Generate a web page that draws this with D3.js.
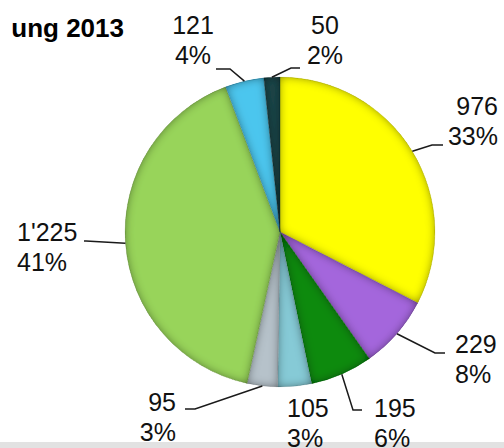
<!DOCTYPE html>
<html>
<head>
<meta charset="utf-8">
<script src="https://cdn.jsdelivr.net/npm/d3@7"></script>
<style>
  html, body { margin: 0; padding: 0; background: #fff; }
  svg { display: block; font-family: "Liberation Sans", Arial, sans-serif; }
</style>
</head>
<body>
<svg width="504" height="448"></svg>
<script>
"use strict";

// values clockwise from 12 o'clock
const values = [976, 229, 195, 105, 95, 1225, 121, 50];
const valueLabels = ["976", "229", "195", "105", "95", "1'225", "121", "50"];
const percentLabels = ["33%", "8%", "6%", "3%", "3%", "41%", "4%", "2%"];
const colors = ["#ffff00", "#a466dc", "#0a8a0c", "#86cad6", "#b6c2ca", "#98d45a", "#4cc6ee", "#1b4548"];
const title = "ung 2013";

// label placement: text anchor point + leader elbow/end (null = no leader)
const labelLayout = [
    {x: 498, y: 115, anchor: "end",    elbow: [432, 145], end: [443, 145]},
    {x: 455, y: 353, anchor: "start",  elbow: [435, 353], end: [445, 353]},
    {x: 374, y: 417, anchor: "start",  elbow: [353, 410], end: [362, 410]},
    {x: 287, y: 417, anchor: "start",  elbow: null, end: null},
    {x: 176, y: 411, anchor: "end",    elbow: [195, 409], end: [185, 409]},
    {x: 17,  y: 241, anchor: "start",  elbow: [86, 241], end: [84, 241]},
    {x: 193, y: 34,  anchor: "middle", elbow: [230, 69], end: [216, 69]},
    {x: 325, y: 34,  anchor: "middle", elbow: [291, 68], end: [300, 68]}
];

const svg = d3.select("svg");
const cx = 280, cy = 232, radius = 155;

// bevel-ish inner shading
const defs = svg.append("defs");
const f = defs.append("filter").attr("id", "bevel")
    .attr("x", "-10%").attr("y", "-10%").attr("width", "120%").attr("height", "120%");
f.append("feGaussianBlur").attr("in", "SourceAlpha").attr("stdDeviation", 5).attr("result", "blur");
f.append("feComposite").attr("in", "SourceAlpha").attr("in2", "blur")
    .attr("operator", "arithmetic").attr("k2", 1.4).attr("k3", -1.4).attr("result", "edge");
f.append("feFlood").attr("flood-color", "#000").attr("flood-opacity", 0.6).attr("result", "dark");
f.append("feComposite").attr("in", "dark").attr("in2", "edge").attr("operator", "in").attr("result", "shade");
f.append("feComposite").attr("in", "shade").attr("in2", "SourceGraphic").attr("operator", "over").attr("result", "lit");
f.append("feComposite").attr("in", "lit").attr("in2", "SourceAlpha").attr("operator", "in");

// grey strip at the bottom
svg.append("rect")
    .attr("x", 0).attr("y", 442).attr("width", 504).attr("height", 6)
    .attr("fill", "#e2e2e2");

svg.append("text")
    .attr("x", 124).attr("y", 37)
    .attr("text-anchor", "end")
    .attr("font-size", 26).attr("font-weight", "bold")
    .attr("fill", "#000")
    .text(title);

const pie = d3.pie().sort(null).value(d => d);
const arcs = pie(values);
const arc = d3.arc().innerRadius(0).outerRadius(radius);

const g = svg.append("g").attr("transform", `translate(${cx},${cy})`);

g.selectAll("path.slice")
    .data(arcs)
    .join("path")
    .attr("class", "slice")
    .attr("d", arc)
    .attr("fill", (d, i) => colors[i])
    .attr("stroke", (d, i) => d3.color(colors[i]).darker(0.8))
    .attr("stroke-width", 0.6)
    .attr("filter", "url(#bevel)");

// leader lines, starting on the rim at each slice's mid angle
const rimPoint = d => {
    const a = (d.startAngle + d.endAngle) / 2;
    return [cx + radius * Math.sin(a), cy - radius * Math.cos(a)];
};

svg.selectAll("polyline.leader")
    .data(arcs.filter((d, i) => labelLayout[i].elbow))
    .join("polyline")
    .attr("class", "leader")
    .attr("points", d => {
        const L = labelLayout[d.index];
        return [rimPoint(d), L.elbow, L.end].map(p => p.join(",")).join(" ");
    })
    .attr("fill", "none")
    .attr("stroke", "#1a1a1a")
    .attr("stroke-width", 1.5);

const labels = svg.selectAll("text.lbl")
    .data(arcs)
    .join("text")
    .attr("class", "lbl")
    .attr("font-size", 25)
    .attr("fill", "#111")
    .attr("text-anchor", d => labelLayout[d.index].anchor);

labels.append("tspan")
    .attr("x", d => labelLayout[d.index].x)
    .attr("y", d => labelLayout[d.index].y)
    .text(d => valueLabels[d.index]);
labels.append("tspan")
    .attr("x", d => labelLayout[d.index].x)
    .attr("y", d => labelLayout[d.index].y + 29.5)
    .text(d => percentLabels[d.index]);
</script>
</body>
</html>
